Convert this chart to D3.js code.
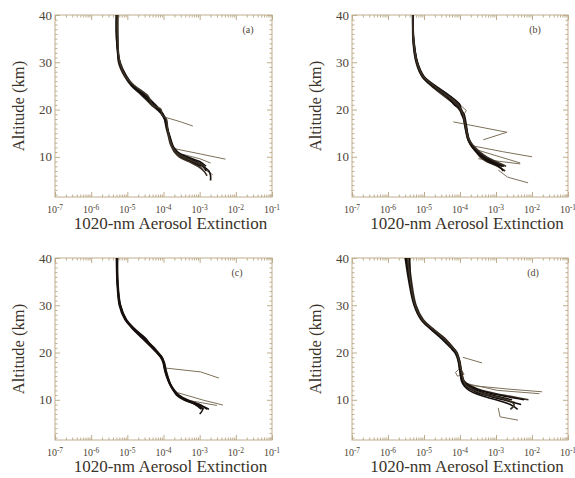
<!DOCTYPE html>
<html>
<head>
<meta charset="utf-8">
<script src="https://d3js.org/d3.v7.min.js"></script>
<style>
body { margin: 0; background: #fff; }
svg { display: block; font-family: "Liberation Serif", "Times New Roman", serif; }
</style>
</head>
<body>
<div id="chart"></div>
<script>
// altitude grid (km) shared by all profiles
const ALT = [40, 35, 30, 27, 25, 23, 21, 20, 19, 18, 16, 14, 13, 12, 11, 10, 9, 8, 7, 6, 5];
const altTicks = [10, 20, 30, 40];
const decades = [1e-7, 1e-6, 1e-5, 1e-4, 1e-3, 1e-2, 1e-1];
const panelTags = ["(a)", "(b)", "(c)", "(d)"];
const xTitle = "1020-nm Aerosol Extinction";
const yTitle = "Altitude (km)";

// extinction on the ALT grid, a profile stops at its lowest level
const profilesA = [
	[5.2e-6, 5.2e-6, 6.0e-6, 8.9e-6, 1.4e-5, 2.8e-5, 5.2e-5, 7.2e-5, 9.3e-5, 1.1e-4, 1.26e-4, 1.5e-4, 1.6e-4, 1.8e-4, 2.1e-4, 3.0e-4, 5.6e-4, 1.07e-3],
	[4.9e-6, 5.0e-6, 6.3e-6, 9.6e-6, 1.5e-5, 3.2e-5, 6.0e-5, 7.9e-5, 9.8e-5, 1.15e-4, 1.3e-4, 1.45e-4, 1.55e-4, 1.9e-4, 2.5e-4, 4.0e-4, 8.0e-4, 1.3e-3, 1.5e-3],
	[5.5e-6, 5.5e-6, 5.7e-6, 8.4e-6, 1.3e-5, 2.5e-5, 4.6e-5, 6.6e-5, 8.9e-5, 1.05e-4, 1.2e-4, 1.4e-4, 1.5e-4, 1.7e-4, 2.0e-4, 2.7e-4, 5.0e-4, 9.0e-4, 1.3e-3, 1.6e-3],
	[5.1e-6, 5.3e-6, 6.1e-6, 9.2e-6, 1.45e-5, 3.0e-5, 5.6e-5, 7.5e-5, 9.5e-5, 1.1e-4, 1.24e-4, 1.5e-4, 1.65e-4, 1.85e-4, 2.3e-4, 4.5e-4, 1.0e-3, 1.5e-3],
	[5.3e-6, 5.1e-6, 5.9e-6, 8.7e-6, 1.35e-5, 2.7e-5, 5.0e-5, 7.0e-5, 9.0e-5, 1.08e-4, 1.28e-4, 1.55e-4, 1.7e-4, 1.9e-4, 2.2e-4, 3.3e-4, 6.5e-4, 1.2e-3, 1.8e-3, 2.0e-3, 2.0e-3],
	[5.2e-6, 5.4e-6, 6.2e-6, 9.0e-6, 1.6e-5, 3.6e-5, 5.0e-5, 8.5e-5, 9.0e-5, 1.2e-4, 1.3e-4, 1.45e-4, 1.6e-4, 1.8e-4, 2.2e-4, 3.5e-4, 7.0e-4, 1.4e-3]
];
// [extinction, altitude] pieces that leave the bundle
const branchesA = [
	[[1.2e-4, 18.3], [3.0e-4, 17.4], [6.5e-4, 16.5]],
	[[2.1e-4, 11.7], [1.05e-3, 10.6], [5.2e-3, 9.5]],
	[[2.5e-4, 10.8], [1.0e-3, 9.6], [2.0e-3, 8.7]],
	[[1.0e-3, 8.0], [2.3e-3, 6.2]]
];

const profilesB = [
	[4.9e-6, 5.0e-6, 6.3e-6, 9.3e-6, 1.8e-5, 3.8e-5, 8.3e-5, 1.0e-4, 1.2e-4, 1.3e-4, 1.45e-4, 1.66e-4, 1.9e-4, 2.3e-4, 3.0e-4, 4.1e-4, 6.8e-4, 1.5e-3],
	[4.8e-6, 5.1e-6, 6.6e-6, 1.0e-5, 2.0e-5, 4.4e-5, 9.0e-5, 1.1e-4, 1.25e-4, 1.35e-4, 1.5e-4, 1.75e-4, 2.0e-4, 2.5e-4, 3.4e-4, 5.0e-4, 9.0e-4, 1.7e-3],
	[5.0e-6, 4.9e-6, 6.0e-6, 8.8e-6, 1.6e-5, 3.4e-5, 7.5e-5, 9.5e-5, 1.15e-4, 1.25e-4, 1.4e-4, 1.6e-4, 1.8e-4, 2.2e-4, 2.8e-4, 3.6e-4, 5.5e-4, 1.1e-3, 1.8e-3],
	[4.9e-6, 5.2e-6, 6.5e-6, 9.8e-6, 2.1e-5, 5.0e-5, 1.0e-4, 1.05e-4, 1.3e-4, 1.4e-4, 1.55e-4, 1.7e-4, 1.95e-4, 2.4e-4, 3.2e-4, 4.5e-4, 8.0e-4, 1.6e-3],
	[5.0e-6, 5.0e-6, 6.2e-6, 9.0e-6, 1.7e-5, 4.0e-5, 7.0e-5, 1.0e-4, 1.1e-4, 1.28e-4, 1.42e-4, 1.62e-4, 1.85e-4, 2.2e-4, 2.9e-4, 4.0e-4, 6.0e-4, 1.2e-3, 1.6e-3],
	[4.9e-6, 5.1e-6, 6.4e-6, 9.5e-6, 1.9e-5, 4.2e-5, 8.8e-5, 1.05e-4, 1.22e-4, 1.3e-4, 1.48e-4, 1.7e-4, 2.0e-4, 2.6e-4, 3.6e-4, 5.5e-4, 1.0e-3, 1.9e-3]
];
const branchesB = [
	[[1.0e-4, 21], [1.5e-4, 19.8], [1.3e-4, 19.0]],
	[[6.5e-5, 17.4], [2.0e-3, 15.2], [4.4e-4, 13.6]],
	[[2.3e-4, 12.3], [1.5e-3, 11.1], [1.0e-2, 10.0]],
	[[2.6e-4, 11.6], [4.7e-3, 8.7]],
	[[3.2e-4, 9.6], [4.7e-3, 8.5]],
	[[1.15e-3, 7.2], [2.1e-3, 5.7], [7.8e-3, 4.5]]
];

const profilesC = [
	[5.2e-6, 5.4e-6, 6.3e-6, 8.9e-6, 1.5e-5, 2.8e-5, 5.2e-5, 6.8e-5, 8.7e-5, 1.0e-4, 1.15e-4, 1.4e-4, 1.6e-4, 1.95e-4, 2.5e-4, 4.1e-4, 8.7e-4, 1.3e-3],
	[5.0e-6, 5.2e-6, 6.0e-6, 8.5e-6, 1.4e-5, 2.6e-5, 4.8e-5, 6.4e-5, 8.3e-5, 9.6e-5, 1.1e-4, 1.35e-4, 1.55e-4, 1.85e-4, 2.3e-4, 3.6e-4, 7.5e-4, 1.1e-3],
	[5.4e-6, 5.5e-6, 6.5e-6, 9.4e-6, 1.6e-5, 3.0e-5, 5.6e-5, 7.2e-5, 9.0e-5, 1.05e-4, 1.2e-4, 1.45e-4, 1.65e-4, 2.0e-4, 2.7e-4, 4.6e-4, 1.0e-3, 1.6e-3],
	[5.1e-6, 5.3e-6, 6.2e-6, 9.0e-6, 1.55e-5, 3.2e-5, 5.0e-5, 7.0e-5, 9.2e-5, 1.0e-4, 1.12e-4, 1.38e-4, 1.58e-4, 1.9e-4, 2.4e-4, 3.9e-4, 8.0e-4, 1.2e-3, 1.0e-3],
	[5.3e-6, 5.3e-6, 6.4e-6, 9.2e-6, 1.45e-5, 2.9e-5, 5.4e-5, 6.6e-5, 8.5e-5, 1.02e-4, 1.18e-4, 1.42e-4, 1.62e-4, 2.0e-4, 2.6e-4, 4.3e-4, 9.5e-4, 1.8e-3]
];
const branchesC = [
	[[1.2e-4, 16.7], [1.07e-3, 15.9], [3.4e-3, 14.6]],
	[[2.5e-4, 11.5], [1.3e-3, 9.9], [4.4e-3, 8.9]],
	[[4.1e-4, 10.0], [3.0e-3, 8.8]]
];

const profilesD = [
	[3.4e-6, 4.1e-6, 5.6e-6, 8.7e-6, 1.66e-5, 3.4e-5, 6.0e-5, 7.8e-5, 8.7e-5, 9.5e-5, 1.05e-4, 1.2e-4, 1.66e-4, 2.9e-4, 7.8e-4, 2.8e-3],
	[3.0e-6, 3.8e-6, 5.3e-6, 8.2e-6, 1.5e-5, 3.0e-5, 5.5e-5, 7.2e-5, 8.3e-5, 9.0e-5, 1.0e-4, 1.15e-4, 1.4e-4, 2.2e-4, 5.0e-4, 1.6e-3, 5.0e-3],
	[3.8e-6, 4.5e-6, 6.0e-6, 9.5e-6, 1.8e-5, 3.8e-5, 6.5e-5, 8.3e-5, 9.0e-5, 1.0e-4, 1.1e-4, 1.3e-4, 2.0e-4, 4.0e-4, 1.6e-3, 8.0e-3],
	[3.2e-6, 4.0e-6, 5.5e-6, 8.5e-6, 1.6e-5, 3.2e-5, 5.8e-5, 7.5e-5, 8.5e-5, 9.2e-5, 1.0e-4, 1.1e-4, 1.3e-4, 1.8e-4, 3.5e-4, 1.0e-3, 2.5e-3, 4.0e-3],
	[4.0e-6, 4.3e-6, 5.8e-6, 9.0e-6, 1.7e-5, 3.6e-5, 6.3e-5, 8.0e-5, 9.2e-5, 9.8e-5, 1.08e-4, 1.25e-4, 1.8e-4, 3.5e-4, 1.2e-3, 6.0e-3],
	[3.5e-6, 4.2e-6, 5.7e-6, 8.9e-6, 1.75e-5, 3.5e-5, 6.2e-5, 8.0e-5, 8.8e-5, 9.6e-5, 1.1e-4, 1.25e-4, 1.5e-4, 2.5e-4, 6.0e-4, 2.0e-3, 3.2e-3, 2.5e-3]
];
const branchesD = [
	[[2.2e-4, 13.0], [2.0e-3, 12.3], [1.9e-2, 11.7]],
	[[1.4e-4, 13.5], [1.1e-3, 12.0], [1.6e-2, 11.3]],
	[[2.1e-4, 11.7], [3.4e-3, 9.5]],
	[[1.2e-4, 19.0], [4.1e-4, 17.8]],
	[[9.5e-5, 16.5], [7.5e-5, 15.8], [8.5e-5, 15.0], [1.3e-4, 15.4], [1.1e-4, 16.3]],
	[[1.15e-3, 8.3], [1.3e-3, 6.4], [4.1e-3, 5.7]]
];

const allProfiles = [profilesA, profilesB, profilesC, profilesD];
const allBranches = [branchesA, branchesB, branchesC, branchesD];

// where each panel frame sits on the page
const boxes = [
	{x0: 55, x1: 272, y0: 15, y1: 197, titleY: 229, tagX: 248},
	{x0: 352, x1: 568, y0: 15, y1: 197, titleY: 229, tagX: 535},
	{x0: 55, x1: 272, y0: 258, y1: 440, titleY: 472, tagX: 237},
	{x0: 352, x1: 568, y0: 258, y1: 440, titleY: 472, tagX: 533}
];

const frameColor = "#bfae8e";
const textColor = "#4e4536";

const svg = d3.select("#chart").append("svg")
	.attr("width", 575)
	.attr("height", 478);

svg.append("rect").attr("width", 575).attr("height", 478).attr("fill", "#fff");

svg.append("defs").append("filter")
	.attr("id", "soft")
	.append("feGaussianBlur")
	.attr("stdDeviation", 0.45);

boxes.forEach(function(b, i) { drawPanel(b, allProfiles[i], allBranches[i], panelTags[i]); });

function drawPanel(b, profiles, branches, tag) {
	let x = d3.scaleLog().domain([1e-7, 1e-1]).range([b.x0, b.x1]);
	let y = d3.scaleLinear().domain([1.5, 40]).range([b.y1, b.y0]);
	let g = svg.append("g");

	let minorX = x.ticks().filter(function(d) { return decades.indexOf(d) < 0; });
	let minorY = d3.range(2, 40).filter(function(d) { return d % 10 != 0; });

	//ticks on all four sides, pointing in
	let axes = [
		[d3.axisBottom(x), b.y1, "x"], [d3.axisTop(x), b.y0, "x"],
		[d3.axisLeft(y), b.x0, "y"], [d3.axisRight(y), b.x1, "y"]
	];
	axes.forEach(function(a) {
		let ax = a[0], pos = a[1], isX = a[2] == "x";
		let tr = isX ? "translate(0," + pos + ")" : "translate(" + pos + ",0)";
		g.append("g").attr("class", "minor").attr("transform", tr)
			.call(ax.tickValues(isX ? minorX : minorY).tickSize(-2.5).tickFormat(""));
		g.append("g").attr("class", "major").attr("transform", tr)
			.call(ax.tickValues(isX ? decades : altTicks).tickSize(-5).tickFormat(""));
	});
	g.selectAll(".domain").remove();
	g.selectAll(".tick line").attr("stroke", frameColor);

	g.append("rect")
		.attr("x", b.x0).attr("y", b.y0)
		.attr("width", b.x1 - b.x0).attr("height", b.y1 - b.y0)
		.attr("fill", "none")
		.attr("stroke", frameColor)
		.attr("stroke-width", 1);

	// x labels as 10 with superscript exponent
	g.selectAll(".xlab")
		.data(decades)
		.enter().append("text")
		.attr("class", "xlab")
		.attr("x", function(d) { return x(d); })
		.attr("y", b.y1 + 16)
		.attr("text-anchor", "middle")
		.attr("font-size", "10px")
		.attr("fill", textColor)
		.each(function(d) {
			let t = d3.select(this);
			t.text("10");
			t.append("tspan")
				.attr("dy", "-0.45em")
				.attr("font-size", "7.5px")
				.text(Math.round(Math.log10(d)));
		});

	g.selectAll(".ylab")
		.data(altTicks)
		.enter().append("text")
		.attr("class", "ylab")
		.attr("x", b.x0 - 3)
		.attr("y", function(d) { return y(d); })
		.attr("dy", "0.35em")
		.attr("text-anchor", "end")
		.attr("font-size", "13px")
		.attr("fill", textColor)
		.text(function(d) { return d; });

	g.append("text")
		.attr("x", (b.x0 + b.x1) / 2 + 7)
		.attr("y", b.titleY)
		.attr("text-anchor", "middle")
		.attr("font-size", "17px")
		.attr("fill", "#3a3329")
		.text(xTitle);

	g.append("text")
		.attr("transform", "translate(" + (b.x0 - 31) + "," + ((b.y0 + b.y1) / 2) + ") rotate(-90)")
		.attr("text-anchor", "middle")
		.attr("font-size", "16.5px")
		.attr("fill", "#3a3329")
		.text(yTitle);

	g.append("text")
		.attr("x", b.tagX)
		.attr("y", b.y0 + 18)
		.attr("text-anchor", "middle")
		.attr("font-size", "10px")
		.attr("fill", textColor)
		.text(tag);

	// profiles
	let line = d3.line()
		.x(function(d) { return x(d[0]); })
		.y(function(d) { return y(d[1]); });
	let smooth = d3.line()
		.x(function(d) { return x(d[0]); })
		.y(function(d) { return y(d[1]); })
		.curve(d3.curveCatmullRom.alpha(0.5));

	let lines = g.append("g").attr("filter", "url(#soft)");

	lines.selectAll(".branch")
		.data(branches)
		.enter().append("path")
		.attr("class", "branch")
		.attr("d", line)
		.attr("fill", "none")
		.attr("stroke", "#7d705a")
		.attr("stroke-width", 1);

	lines.selectAll(".profile")
		.data(profiles.map(function(p) { return p.map(function(v, k) { return [v, ALT[k]]; }); }))
		.enter().append("path")
		.attr("class", "profile")
		.attr("d", smooth)
		.attr("fill", "none")
		.attr("stroke", function(d, k) { return k % 3 == 2 ? "#3b3026" : "#140f0b"; })
		.attr("stroke-width", 1.6);
}
</script>
</body>
</html>
